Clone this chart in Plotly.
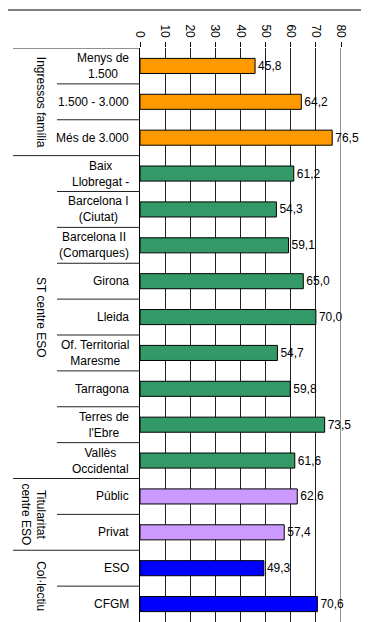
import plotly.graph_objects as go

# Dades
groups = ["Ingressos família", "ST centre ESO", "Titularitat<br>centre ESO", "Col·lectiu"]
group_sizes = [3, 9, 2, 2]
group_colors = ["#FF9900", "#339966", "#CC99FF", "#0000FF"]

categories = [
    "Menys de 1.500", "1.500 - 3.000", "Més de 3.000",
    "Baix Llobregat -", "Barcelona I (Ciutat)", "Barcelona II (Comarques)", "Girona",
    "Lleida", "Of. Territorial Maresme", "Tarragona", "Terres de l'Ebre", "Vallès Occidental",
    "Públic", "Privat",
    "ESO", "CFGM",
]
labels = [
    "Menys de<br>1.500", "1.500 - 3.000", "Més de 3.000",
    "Baix<br>Llobregat -", "Barcelona I<br>(Ciutat)", "Barcelona II<br>(Comarques)", "Girona",
    "Lleida", "Of. Territorial<br>Maresme", "Tarragona", "Terres de<br>l'Ebre", "Vallès<br>Occidental",
    "Públic", "Privat",
    "ESO", "CFGM",
]
values = [45.8, 64.2, 76.5,
          61.2, 54.3, 59.1, 65.0, 70.0, 54.7, 59.8, 73.5, 61.6,
          62.6, 57.4,
          49.3, 70.6]
x_ticks = [0, 10, 20, 30, 40, 50, 60, 70, 80]

# Geometria (píxels de la pàgina; el body de l'html té 8 px de marge)
OFF = 8
W, H = 369 - OFF, 622 - OFF
L, R, T, B = 140 - OFF, 28, 48 - OFF, 0
pw, ph = W - L - R, H - T - B

def px_x(p):
    return (p - OFF - L) / pw

def px_y(p):
    return 1 - (p - OFF - T) / ph

FONT = "Arial, Liberation Sans, sans-serif"
LINE = "#222222"

colors = []
for c, n in zip(group_colors, group_sizes):
    colors += [c] * n

fig = go.Figure()
fig.add_trace(go.Bar(
    x=values, y=categories, orientation="h",
    marker=dict(color=colors, line=dict(color="#000000", width=1)),
    width=0.42,
    texttemplate="%{x:.1f}", textposition="outside", constraintext="none",
    cliponaxis=False,
    textfont=dict(family=FONT, size=12, color="#000000"),
    hoverinfo="skip",
))

shapes = []
annotations = []

# línia de graella a l'extrem dret (80), que plotly no dibuixa a la vora
shapes.append(dict(type="line", xref="x", yref="paper", x0=x_ticks[-1], x1=x_ticks[-1],
                   y0=0, y1=1, line=dict(color=LINE, width=1), layer="below"))

# etiquetes de categoria (centrades, com a Excel)
for cat, lab in zip(categories, labels):
    annotations.append(dict(
        xref="paper", x=0, xshift=-9, xanchor="right",
        yref="y", y=cat, yanchor="middle",
        text=lab, align="center", showarrow=False,
        font=dict(family=FONT, size=12, color="#000000"),
    ))

# separadors i etiquetes de grup
start = 0
shapes.append(dict(type="line", xref="paper", yref="y", x0=px_x(13), x1=0,
                   y0=-0.5, y1=-0.5, line=dict(color=LINE, width=1)))
for g, n in zip(groups, group_sizes):
    end = start + n - 1
    for i in range(start, end):
        shapes.append(dict(type="line", xref="paper", yref="y", x0=px_x(57), x1=0,
                           y0=i + 0.5, y1=i + 0.5, line=dict(color=LINE, width=1)))
    if end < len(categories) - 1:
        shapes.append(dict(type="line", xref="paper", yref="y", x0=px_x(13), x1=0,
                           y0=end + 0.5, y1=end + 0.5, line=dict(color=LINE, width=1)))
    annotations.append(dict(
        xref="paper", x=px_x(50), xanchor="right",
        yref="y", y=(start + end) / 2, yanchor="middle",
        text=g, textangle=90, align="center", showarrow=False,
        font=dict(family=FONT, size=12, color="#000000"),
    ))
    start = end + 1

# marc del gràfic
shapes.append(dict(type="line", xref="paper", yref="paper", x0=px_x(0), x1=px_x(363),
                   y0=px_y(10), y1=px_y(10), line=dict(color="#000000", width=1)))
shapes.append(dict(type="line", xref="paper", yref="paper", x0=px_x(363), x1=px_x(363),
                   y0=px_y(10), y1=px_y(630), line=dict(color="#000000", width=1)))

fig.update_layout(
    width=W, height=H,
    margin=dict(l=L, r=R, t=T, b=B),
    paper_bgcolor="#FFFFFF", plot_bgcolor="#FFFFFF",
    separators=",.",
    showlegend=False,
    shapes=shapes, annotations=annotations,
    font=dict(family=FONT, size=12, color="#000000"),
)
fig.update_xaxes(
    side="top", range=[0, 80], tickvals=x_ticks, tickangle=90,
    ticks="outside", ticklen=5, tickcolor="#000000",
    showgrid=True, gridcolor=LINE, gridwidth=1,
    zeroline=False, showline=False,
    tickfont=dict(family=FONT, size=12, color="#000000"),
)
fig.update_yaxes(
    categoryorder="array", categoryarray=categories,
    range=[len(categories) - 0.5, -0.5],
    showticklabels=False, ticks="",
    showgrid=False, zeroline=False,
    showline=True, linecolor="#000000", linewidth=1,
)

fig.write_html("out.html")
